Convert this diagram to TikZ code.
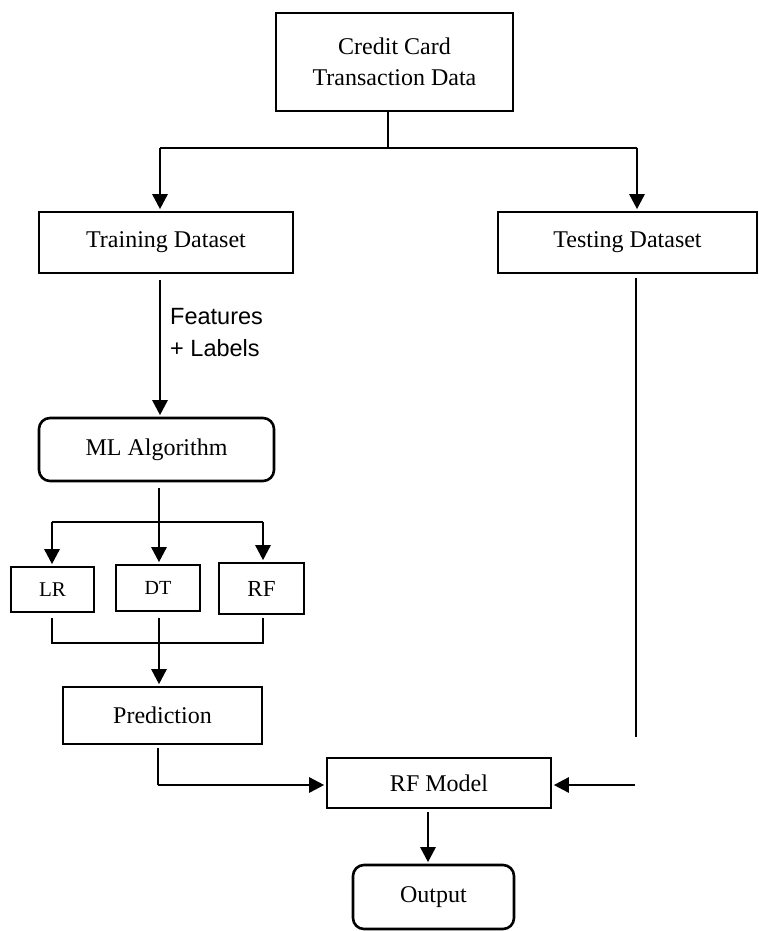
\documentclass[tikz,border=0pt]{standalone}
\usepackage{fontspec}
\setmainfont{Liberation Serif}
\newfontfamily\labelfont{Liberation Sans}
\usetikzlibrary{arrows.meta,calc}

\tikzset{
  conn/.style={line width=2.6pt},
  arr/.style={conn,-{Triangle[width=15pt,length=15pt]},shorten >=1.5pt},
  box/.style={draw,line width=2.6pt,rectangle,inner sep=0pt,
    font=\fontsize{24}{31}\selectfont,align=center},
  rbox/.style={box,rounded corners=11pt},
}

\begin{document}
\begin{tikzpicture}[x=1pt,y=-1pt]
  \useasboundingbox (0,0) rectangle (759,931);

  % boxes (centre, width, height in px-like units)
  \node[box,minimum width=237pt,minimum height=98pt] (top) at (394.5,62)
    {Credit Card\\Transaction Data};
  \node[box,minimum width=254pt,minimum height=61pt] (train) at (166,242.5) {Training Dataset};
  \node[box,minimum width=259pt,minimum height=61pt] (test) at (627.5,242.5) {Testing Dataset};
  \node[rbox,minimum width=235pt,minimum height=63pt] (ml) at (156.5,449.5) {ML Algorithm};
  \node[box,minimum width=83pt,minimum height=45pt,font=\fontsize{21}{25}\selectfont] (lr) at (52.5,589.5) {LR};
  \node[box,minimum width=84pt,minimum height=46pt,font=\fontsize{20}{24}\selectfont] (dt) at (158,588) {DT};
  \node[box,minimum width=85pt,minimum height=51pt,font=\fontsize{23}{27}\selectfont] (rf) at (261.5,588.5) {RF};
  \node[box,minimum width=199pt,minimum height=57pt] (pred) at (162.5,715.5) {Prediction};
  \node[box,minimum width=224pt,minimum height=50pt] (rfm) at (439,783) {RF Model};
  \node[rbox,minimum width=161pt,minimum height=64pt] (out) at (433.5,897) {Output};

  % label beside the training arrow
  \node[anchor=west,align=left,inner sep=0pt,
        font=\labelfont\fontsize{23.5}{32}\selectfont] (feat) at (170,333)
    {Features\\+ Labels};

  % split of the transaction data
  \coordinate (split) at (388,148);
  \coordinate (splitL) at (160,148);
  \coordinate (splitR) at (637,148);
  \draw[conn] (top.south -| split) -- (split);
  \draw[conn] (splitL) -- (splitR);
  \draw[arr] (splitL) -- (train.north -| splitL);
  \draw[arr] (splitR) -- (test.north -| splitR);

  % training path
  \coordinate (trainOut) at (160,280);
  \draw[arr] (trainOut) -- (ml.north -| trainOut);

  % fan-out to the three classifiers
  \coordinate (mlOut) at (159,488);
  \coordinate (fanM) at (159,522);
  \coordinate (fanL) at (52,522);
  \coordinate (fanR) at (263,522);
  \draw[conn] (mlOut) -- (fanM);
  \draw[conn] (fanL) -- (fanR);
  \draw[arr] (fanL) -- (lr.north -| fanL);
  \draw[arr] (fanM) -- (dt.north -| fanM);
  \draw[arr] (fanR) -- (rf.north -| fanR);

  % merge of the classifiers into the prediction
  \coordinate (mL) at (52,618);
  \coordinate (mM) at (159,618);
  \coordinate (mR) at (263,618);
  \coordinate (jL) at (52,643);
  \coordinate (jR) at (263,643);
  \draw[conn,line join=miter] (mL) -- (jL) -- (jR) -- (mR);
  \draw[arr] (mM) -- (pred.north -| mM);

  % prediction into the RF model
  \coordinate (predOut) at (158,748);
  \coordinate (predTurn) at (158,785);
  \draw[conn] (predOut) -- (predTurn);
  \draw[arr] (predTurn) -- (rfm.west |- predTurn);

  % testing data into the RF model
  \coordinate (testOut) at (636,278);
  \coordinate (testEnd) at (636,737);
  \coordinate (testIn) at (635,785);
  \draw[conn] (testOut) -- (testEnd);
  \draw[arr] (testIn) -- (rfm.east |- testIn);

  % RF model to output
  \coordinate (rfmOut) at (428,812);
  \draw[arr] (rfmOut) -- (out.north -| rfmOut);
\end{tikzpicture}
\end{document}
